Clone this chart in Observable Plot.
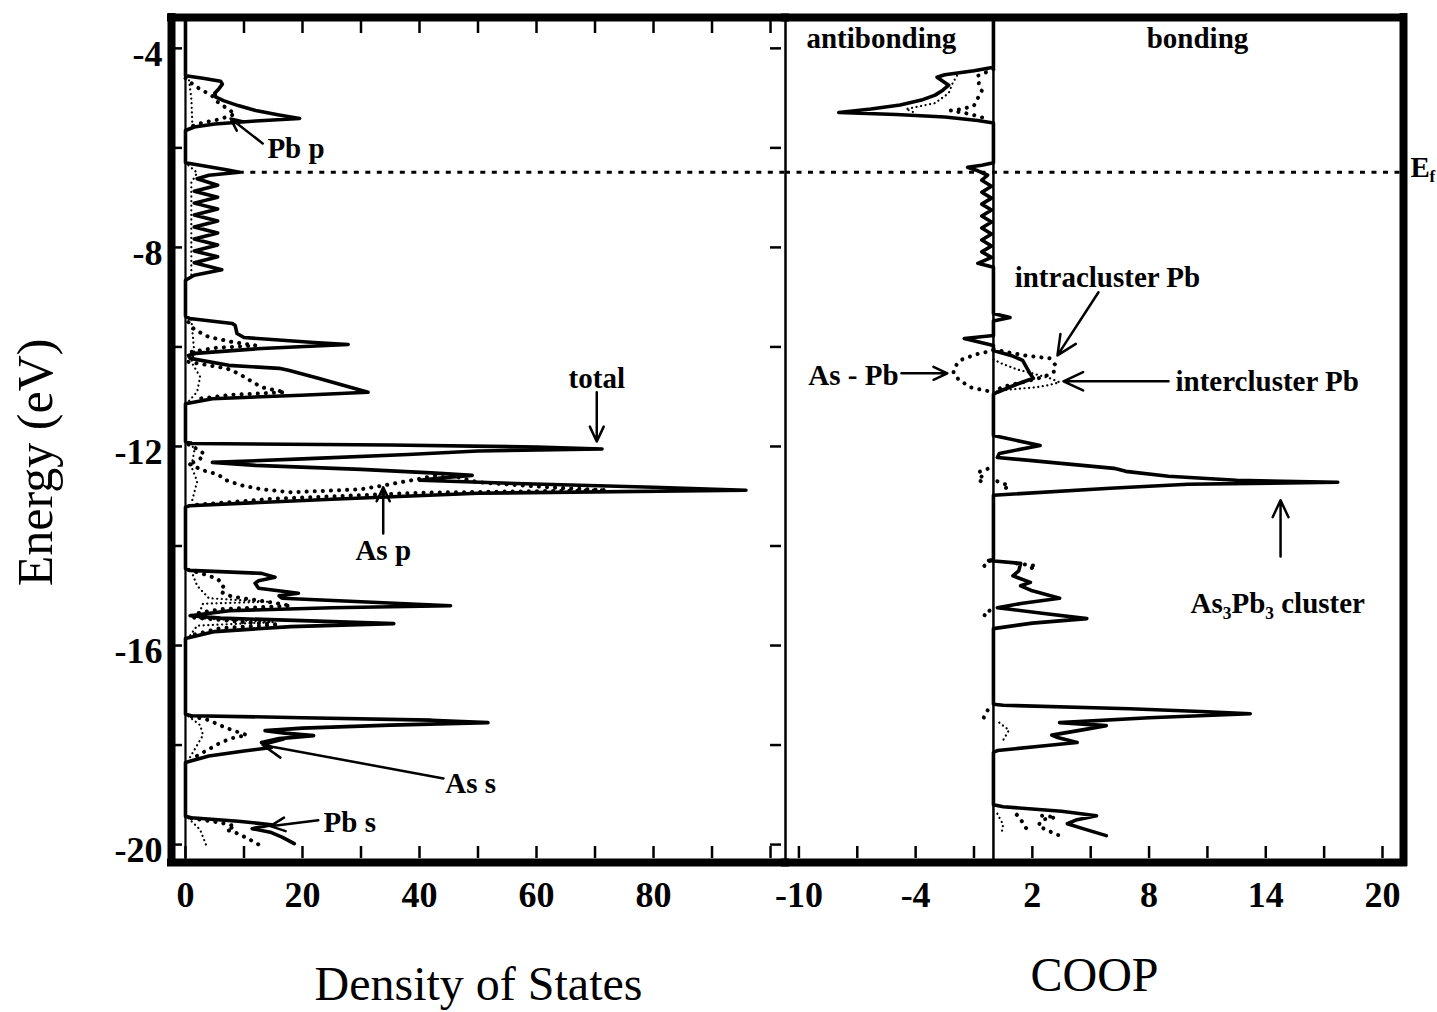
<!DOCTYPE html>
<html>
<head>
<meta charset="utf-8">
<script src="https://cdn.jsdelivr.net/npm/d3@7"></script>
<script src="https://cdn.jsdelivr.net/npm/@observablehq/plot@0.6"></script>
<style>
  html, body { margin: 0; padding: 0; background: #fff; }
  #chart { position: relative; width: 1437px; height: 1012px; background: #fff; }
  #chart svg { position: absolute; top: 0; display: block; }
</style>
</head>
<body>
<div id="chart"></div>
<script>
// ---------------- DATA ----------------
const yDomain = [-20.36, -3.38];          // energy (eV)
const dosDomain = [-2.39, 102.56];         // density of states
const coopDomain = [-10.69, 21.08];        // COOP

const energyTickLabels = [-4, -8, -12, -16, -20];
const energyTicks = [-4, -6, -8, -10, -12, -14, -16, -18, -20];
const dosTickLabels = [0, 20, 40, 60, 80];
const dosTicksBottom = [0, 10, 20, 30, 40, 50, 60, 70, 80, 90, 100];
const dosTicksTop = [10, 20, 30, 40, 50, 60, 70, 80, 90, 100];
const coopTickLabels = [-10, -4, 2, 8, 14, 20];
const coopTicks = [-10, -7, -4, -1, 2, 5, 8, 11, 14, 17, 20];

const fermiEnergy = -6.49;
const fermiDosStart = 9.2;

// total DOS: [energy, dos]
const dosTotal = [
 [-3.38,0],[-4.55,0],[-4.6,3],[-4.66,6],[-4.72,6.3],[-4.8,5.8],[-4.9,5.0],[-4.98,5.2],[-5.05,6.5],[-5.15,9],[-5.25,12],[-5.34,16],[-5.41,19.5],[-5.46,12],[-5.52,5],[-5.58,1.5],[-5.65,0],
 [-6.3,0],[-6.36,3],[-6.44,7],[-6.49,9.2],[-6.55,4],[-6.62,2],
 [-6.75,5.5],[-6.87,1.5],[-6.99,5.5],[-7.11,1.5],[-7.23,5.5],[-7.35,1.5],[-7.47,5.5],[-7.59,1.5],[-7.71,5.5],[-7.83,1.5],[-7.95,5.5],[-8.07,1.5],[-8.19,5.5],[-8.31,1.5],[-8.45,6.2],[-8.56,1.5],[-8.66,0],
 [-9.38,0],[-9.43,0.7],[-9.53,8],[-9.57,8.5],[-9.73,8.8],[-9.81,10],[-9.91,22],[-9.95,27.8],[-10.03,13],[-10.13,1.7],[-10.17,0.5],[-10.23,0.8],[-10.37,7.4],[-10.43,16],[-10.47,17.6],[-10.63,22.7],[-10.91,31.2],[-10.97,19.8],[-11.04,4.6],[-11.14,0],
 [-11.9,0],[-11.94,1],[-11.97,35],[-12.01,60],[-12.05,71.2],[-12.09,50],[-12.16,38],[-12.25,20],[-12.32,4.6],[-12.38,12],[-12.46,30],[-12.53,42],[-12.58,49],[-12.63,44],[-12.68,40],[-12.75,58],[-12.82,80],[-12.88,95.8],[-12.94,50],[-13.06,25],[-13.19,0.7],[-13.22,0],
 [-14.45,0],[-14.49,0.7],[-14.55,13],[-14.63,15.3],[-14.7,12.5],[-14.75,11.9],[-14.85,12.5],[-14.95,19.3],[-15.0,16],[-15.05,16.5],[-15.12,30],[-15.2,45.3],[-15.24,25],[-15.3,7.5],[-15.4,0.8],[-15.45,6],[-15.5,20],[-15.56,35.6],[-15.62,18],[-15.72,5],[-15.86,0],
 [-17.38,0],[-17.41,1],[-17.45,20],[-17.5,42],[-17.55,51.7],[-17.6,35],[-17.66,20],[-17.71,13.6],[-17.76,17],[-17.81,21.9],[-17.87,16],[-17.95,13],[-18.05,14.7],[-18.12,10],[-18.22,4],[-18.31,1.2],[-18.35,0],
 [-19.43,0],[-19.46,1],[-19.53,9],[-19.6,14.7],[-19.68,11.4],[-19.75,14.5],[-19.85,16.5],[-19.98,18.6]
];

// projected DOS (heavy dotted), segments of [energy, dos]
const dosPbP = [
 [[-4.6,0],[-4.7,1],[-4.82,2.5],[-4.95,4.5],[-5.08,5.5],[-5.2,7],[-5.32,8.5],[-5.42,6],[-5.52,2],[-5.6,0.5]],
 [[-9.5,0.5],[-9.65,1.5],[-9.8,4],[-9.9,8],[-9.97,12],[-10.02,5],[-10.1,1]],
 [[-11.96,0.5],[-12.05,2],[-12.15,3.2],[-12.25,2.5],[-12.34,1]]
];
const dosAsP = [
 [[-10.3,0.5],[-10.43,7],[-10.53,9],[-10.67,11],[-10.81,13],[-10.91,17],[-10.96,8],[-11.05,1.5]],
 [[-12.36,0.8],[-12.48,3],[-12.56,5.5],[-12.68,7],[-12.78,9.5],[-12.86,13],[-12.92,18],[-12.86,30],[-12.78,34],[-12.65,40],[-12.55,44],[-12.6,46],[-12.72,50],[-12.82,62],[-12.88,72],[-12.93,40],[-13.05,15],[-13.18,1]],
 [[-14.48,0.5],[-14.56,3],[-14.66,5.5],[-14.8,6.5],[-14.92,6],[-15.02,8],[-15.12,14],[-15.2,18],[-15.27,6],[-15.36,1.5]],
 [[-15.44,1.5],[-15.52,9],[-15.58,16],[-15.65,6],[-15.8,0.8]]
];
const dosAsS = [
 [[-17.42,1],[-17.5,4],[-17.58,5.5],[-17.66,7],[-17.74,9],[-17.8,10.5],[-17.86,8],[-17.95,6],[-18.05,4.5],[-18.18,2.5],[-18.3,0.8]]
];
const dosPbS = [
 [[-19.47,1],[-19.56,6],[-19.63,8.5],[-19.7,7],[-19.78,9],[-19.9,11],[-20.0,12.5]]
];
// other projections (fine dotted)
const dosMinor = [
 [[-4.55,0.5],[-5.0,1],[-5.6,1.2]],
 [[-6.35,0.5],[-6.5,2],[-6.7,1],[-8.6,1]],
 [[-9.45,1],[-10.1,1.5],[-10.3,1],[-10.6,2.5],[-10.9,2],[-11.1,0.5]],
 [[-11.92,1],[-12.1,1.5],[-12.4,1],[-12.7,2],[-13.15,1]],
 [[-14.5,1],[-14.8,2],[-15.05,4],[-15.12,14],[-15.16,3],[-15.45,2],[-15.53,15],[-15.6,2],[-15.85,0.5]],
 [[-17.42,0.5],[-17.6,2.5],[-17.8,3],[-18.0,2],[-18.3,0.5]],
 [[-19.47,0.5],[-19.7,2.5],[-20.0,3.5]]
];

// COOP total: [energy, coop]
const coopTotal = [
 [-3.38,0],[-4.38,0],[-4.45,-1],[-4.53,-2.5],[-4.58,-2.9],[-4.66,-2.6],[-4.74,-2.3],[-4.84,-2.6],[-4.94,-3.0],[-5.04,-3.7],[-5.14,-4.8],[-5.22,-6.3],[-5.29,-7.95],[-5.33,-5],[-5.38,-2.5],[-5.45,-0.8],[-5.5,0],
 [-6.3,0],[-6.35,-0.6],[-6.39,-1.33],[-6.46,-0.8],[-6.55,-0.3],[-6.65,-0.6],[-6.77,-0.1],[-6.89,-0.6],[-7.01,-0.1],[-7.13,-0.6],[-7.25,-0.1],[-7.37,-0.6],[-7.49,-0.1],[-7.61,-0.6],[-7.73,-0.1],[-7.85,-0.6],[-7.97,-0.1],[-8.09,-0.6],[-8.2,-0.1],[-8.32,-0.8],[-8.4,0],
 [-9.33,0],[-9.41,0.85],[-9.48,0],[-9.77,0],[-9.83,-1.5],[-9.97,0],[-10.07,0],[-10.17,0.9],[-10.27,1.5],[-10.41,1.7],[-10.55,1.9],[-10.63,2.05],[-10.75,1.2],[-10.91,0.2],[-10.95,0],
 [-11.78,0],[-11.98,2.4],[-12.14,0.3],[-12.22,0.2],[-12.44,6.2],[-12.5,6.8],[-12.6,9],[-12.68,12.5],[-12.72,17.7],[-12.76,10],[-12.84,6],[-12.98,0],
 [-14.27,0],[-14.29,-0.25],[-14.35,1.4],[-14.5,1.3],[-14.6,1.0],[-14.73,1.9],[-14.8,1.4],[-14.9,2.0],[-15.05,3.4],[-15.15,1.5],[-15.24,0.2],[-15.35,2.5],[-15.46,4.8],[-15.55,2.0],[-15.66,0],
 [-17.18,0],[-17.2,0.5],[-17.27,7],[-17.33,11],[-17.37,13.2],[-17.45,8],[-17.55,3.4],[-17.61,5.8],[-17.7,4.5],[-17.8,3.0],[-17.85,3.3],[-17.95,4.3],[-18.02,2.5],[-18.11,0.2],[-18.15,0],
 [-19.2,0],[-19.24,0.5],[-19.33,3.5],[-19.42,5.3],[-19.5,4.3],[-19.58,3.8],[-19.68,4.6],[-19.82,5.8]
];
// COOP projections (heavy dotted)
const coopAsPb = [
 [[-10.07,0],[-10.15,-0.9],[-10.25,-1.6],[-10.33,-1.85],[-10.45,-2.05],[-10.53,-2.05],[-10.65,-1.8],[-10.81,-1.2],[-10.91,0]]
];
const coopIntra = [
 [[-10.05,0],[-10.12,0.9],[-10.17,1.6],[-10.23,2.9],[-10.37,3.2],[-10.5,3.1],[-10.6,2.6],[-10.7,1.6],[-10.8,0.5],[-10.9,0]]
];
const coopOtherHeavy = [
 [[-4.42,0],[-4.55,-0.8],[-4.7,-0.75],[-4.85,-0.6],[-5.0,-0.8],[-5.15,-1.0],[-5.22,-1.6],[-5.25,-2.2],[-5.32,-1.2],[-5.42,-0.3]],
 [[-12.45,-0.3],[-12.52,-0.8],[-12.6,-0.6],[-12.68,-0.8],[-12.74,-0.3]],
 [[-12.7,0.2],[-12.76,0.6],[-12.82,0.8],[-12.86,0.3]],
 [[-14.3,-0.2],[-14.38,-0.5],[-14.48,-0.3]],
 [[-14.35,1.2],[-14.4,2.2],[-14.47,1.8]],
 [[-15.3,-0.2],[-15.38,-0.5],[-15.45,-0.2]],
 [[-17.3,-0.3],[-17.45,-0.5],[-17.55,-0.2]],
 [[-19.4,1.2],[-19.55,1.5],[-19.75,1.8]],
 [[-19.42,2.5],[-19.45,3.2],[-19.5,2.5],[-19.62,2.3],[-19.72,2.8],[-19.82,3.4]]
];
// COOP projections (fine dotted)
const coopInter = [
 [[-10.25,0],[-10.33,0.4],[-10.45,1.2],[-10.53,2.0],[-10.63,2.9],[-10.71,3.4],[-10.77,2.8],[-10.81,2.2],[-10.87,0.4],[-10.92,0]]
];
const coopOtherFine = [
 [[-4.42,-0.3],[-4.5,-1.8],[-4.7,-2.1],[-4.9,-2.3],[-5.1,-3.0],[-5.22,-4.5],[-5.3,-4]],
 [[-17.55,0.3],[-17.7,0.8],[-17.9,0.5]],
 [[-19.38,0.2],[-19.6,0.5],[-19.8,0.4]]
];

// annotations (data units)
const dosLabelsStart = [
 {text: "Pb p", x: 14.0, y: -6.01},
 {text: "As s", x: 44.4, y: -18.77},
 {text: "Pb s", x: 23.6, y: -19.57}
];
const dosLabelsMiddle = [
 {text: "total", x: 70.3, y: -10.63},
 {text: "As p", x: 33.8, y: -14.09}
];
const dosArrows = [
 {x1: 13.2, y1: -5.91, x2: 7.7, y2: -5.41},
 {x1: 70.3, y1: -10.91, x2: 70.3, y2: -11.9},
 {x1: 33.8, y1: -13.75, x2: 33.8, y2: -12.82},
 {x1: 44.1, y1: -18.67, x2: 13.2, y2: -18.0},
 {x1: 22.7, y1: -19.51, x2: 14.5, y2: -19.63}
];
const axisTitleEnergy = [{text: "Energy (eV)", x: dosDomain[0], y: -12.32}];
const coopLabelsMiddle = [
 {text: "antibonding", x: -5.76, y: -3.8},
 {text: "bonding", x: 10.49, y: -3.8},
 {text: "intracluster Pb", x: 5.86, y: -8.6}
];
const coopLabelsStart = [
 {text: "intercluster Pb", x: 9.36, y: -10.69},
 {text: "As\u2083Pb\u2083 cluster", x: 10.13, y: -15.15},
 {text: "E", x: 21.44, y: -6.39}
];
const coopLabelsEnd = [
 {text: "As - Pb", x: -4.88, y: -10.57}
];
const fermiSub = [{text: "f", x: 21.44, y: -6.39}];
const coopArrows = [
 {x1: 5.4, y1: -8.9, x2: 3.29, y2: -10.17},
 {x1: -4.73, y1: -10.53, x2: -2.37, y2: -10.53},
 {x1: 9.0, y1: -10.69, x2: 3.6, y2: -10.69},
 {x1: 14.76, y1: -14.21, x2: 14.76, y2: -13.08}
];

// ---------------- HELPERS ----------------
const flat = (segs) => segs.flatMap((seg, i) => seg.map(([e, v]) => ({e, v, s: i})));
const serif = "'Liberation Serif', 'Times New Roman', Times, serif";
const heavyDots = {x: "v", y: "e", z: "s", stroke: "black", strokeWidth: 4, strokeDasharray: "0.1,8", strokeLinecap: "round"};
const fineDots = {x: "v", y: "e", z: "s", stroke: "black", strokeWidth: 2.2, strokeDasharray: "0.1,4.5", strokeLinecap: "round"};
const totalStyle = {x: d => d[1], y: d => d[0], stroke: "black", strokeWidth: 3.6, strokeLinejoin: "round"};
const annot = {x: "x", y: "y", text: "text", fontSize: 29, fontWeight: "bold", fill: "black"};
const arrowStyle = {x1: "x1", y1: "y1", x2: "x2", y2: "y2", stroke: "black", strokeWidth: 2.5, headLength: 13, headAngle: 50};
const svgStyle = {fontFamily: serif, background: "transparent", overflow: "visible", color: "black"};

// ---------------- DOS PANEL ----------------
const plotDOS = Plot.plot({
  width: 786, height: 1012,
  marginLeft: 171, marginRight: 1, marginTop: 17, marginBottom: 150,
  style: svgStyle,
  x: {domain: dosDomain},
  y: {domain: yDomain},
  marks: [
    Plot.tickY(energyTicks, {insetLeft: 4, insetRight: 603, strokeWidth: 2.5}),
    Plot.tickY(energyTicks, {insetLeft: 599, insetRight: 4, strokeWidth: 2.5}),
    Plot.tickX(dosTicksTop, {insetTop: 4, insetBottom: 829, strokeWidth: 2.5}),
    Plot.tickX(dosTicksBottom, {insetTop: 829, insetBottom: 4, strokeWidth: 2.5}),
    Plot.ruleX([0], {strokeWidth: 2.2}),
    Plot.ruleY([fermiEnergy], {x1: fermiDosStart, x2: dosDomain[1], strokeWidth: 3, strokeDasharray: "5,6.5"}),
    Plot.line(flat(dosMinor), fineDots),
    Plot.line(flat(dosPbP), heavyDots),
    Plot.line(flat(dosAsP), heavyDots),
    Plot.line(flat(dosAsS), heavyDots),
    Plot.line(flat(dosPbS), heavyDots),
    Plot.line(dosTotal, totalStyle),
    Plot.arrow(dosArrows, arrowStyle),
    Plot.text(dosLabelsStart, {...annot, textAnchor: "start"}),
    Plot.text(dosLabelsMiddle, {...annot, textAnchor: "middle"}),
    Plot.ruleX([dosDomain[0]], {strokeWidth: 8, strokeLinecap: "square"}),
    Plot.ruleY(yDomain, {strokeWidth: 8, strokeLinecap: "square"}),
    Plot.axisX(dosTickLabels, {anchor: "bottom", tickSize: 0, tickPadding: 19, fontSize: 36, fontWeight: "bold", label: null, tickFormat: d => String(d)}),
    Plot.axisY(energyTickLabels, {anchor: "left", tickSize: 0, tickPadding: 9, fontSize: 36, fontWeight: "bold", label: null, dy: 6, tickFormat: d => String(d)}),
    Plot.text(["Density of States"], {text: d => d, frameAnchor: "bottom", textAnchor: "middle", dy: 122, lineAnchor: "middle", fontSize: 48}),
    Plot.text(axisTitleEnergy, {x: "x", y: "y", text: "text", rotate: -90, dx: -136, textAnchor: "middle", lineAnchor: "middle", fontSize: 50})
  ]
});

// ---------------- COOP PANEL ----------------
const plotCOOP = Plot.plot({
  width: 652, height: 1012,
  marginLeft: 0, marginRight: 34, marginTop: 17, marginBottom: 150,
  style: svgStyle,
  x: {domain: coopDomain},
  y: {domain: yDomain, axis: null},
  marks: [
    Plot.tickX(coopTicks, {insetTop: 829, insetBottom: 4, strokeWidth: 2.5}),
    Plot.ruleX([0], {strokeWidth: 2.5}),
    Plot.ruleY([fermiEnergy], {strokeWidth: 3, strokeDasharray: "5,6.5"}),
    Plot.line(flat(coopOtherFine), fineDots),
    Plot.line(flat(coopInter), fineDots),
    Plot.line(flat(coopOtherHeavy), heavyDots),
    Plot.line(flat(coopAsPb), heavyDots),
    Plot.line(flat(coopIntra), heavyDots),
    Plot.line(coopTotal, totalStyle),
    Plot.arrow(coopArrows, arrowStyle),
    Plot.text(coopLabelsMiddle, {...annot, textAnchor: "middle"}),
    Plot.text(coopLabelsStart, {...annot, textAnchor: "start"}),
    Plot.text(coopLabelsEnd, {...annot, textAnchor: "end"}),
    Plot.text(fermiSub, {...annot, textAnchor: "start", fontSize: 17, dx: 19, dy: 9}),
    Plot.ruleX([coopDomain[0]], {strokeWidth: 2.5}),
    Plot.ruleX([coopDomain[1]], {strokeWidth: 8, strokeLinecap: "square"}),
    Plot.ruleY(yDomain, {strokeWidth: 8, strokeLinecap: "square"}),
    Plot.axisX(coopTickLabels, {anchor: "bottom", tickSize: 0, tickPadding: 19, fontSize: 36, fontWeight: "bold", label: null, tickFormat: d => String(d)}),
    Plot.text(["COOP"], {text: d => d, frameAnchor: "bottom", textAnchor: "middle", dy: 113, lineAnchor: "middle", fontSize: 48})
  ]
});

const chart = document.getElementById("chart");
plotDOS.style.left = "0px";
plotCOOP.style.left = "785px";
chart.appendChild(plotDOS);
chart.appendChild(plotCOOP);
</script>
</body>
</html>
